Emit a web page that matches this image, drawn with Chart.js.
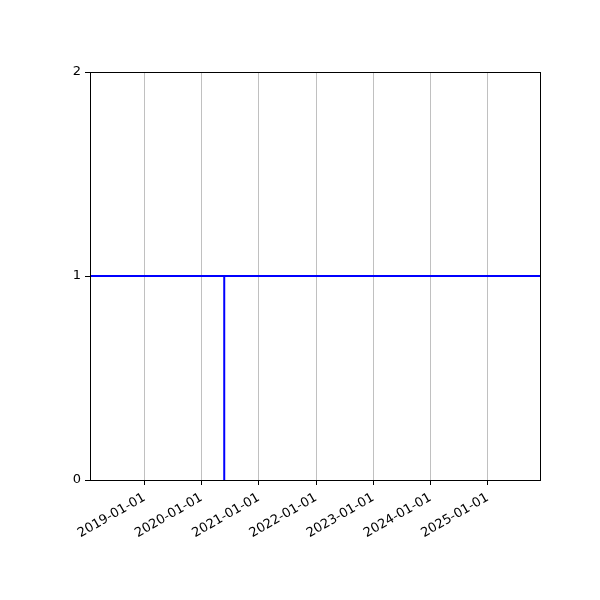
<!DOCTYPE html>
<html>
<head>
<meta charset="utf-8">
<script src="https://cdn.jsdelivr.net/npm/chart.js@4"></script>
<style>
  html, body { margin: 0; padding: 0; background: #fff; }
  #wrap { width: 600px; height: 600px; }
</style>
</head>
<body>
<div id="wrap"><canvas id="chart" width="600" height="600"></canvas></div>
<script>
// Axis range (dates)
const xStart = '2018-01-19';
const xEnd = '2025-12-01';

// Date tick labels
const tickLabels = ['2019-01-01', '2020-01-01', '2021-01-01', '2022-01-01',
                    '2023-01-01', '2024-01-01', '2025-01-01'];
const yTicks = [0, 1, 2];

// Horizontal level line
const levelDates = [xStart, xEnd];
const levelValues = [1, 1];

// Vertical step at the event date
const stepDates = ['2020-05-25', '2020-05-25'];
const stepValues = [0, 1];

const toPoints = (dates, values) => dates.map((d, i) => ({ x: Date.parse(d), y: values[i] }));

// Draw the full box around the plot area
const frame = {
    id: 'frame',
    afterDraw(chart) {
        const { ctx, chartArea: a } = chart;
        ctx.save();
        ctx.strokeStyle = '#000';
        ctx.lineWidth = 1;
        ctx.strokeRect(Math.round(a.left) + 0.5, Math.round(a.top) + 0.5,
                       Math.round(a.right - a.left), Math.round(a.bottom - a.top));
        ctx.restore();
    }
};

const font = { family: 'DejaVu Sans', size: 13 };

new Chart(document.getElementById('chart'), {
    type: 'line',
    data: {
        datasets: [
            {
                data: toPoints(levelDates, levelValues),
                borderColor: '#0000ff',
                borderWidth: 2,
                pointRadius: 0,
                tension: 0
            },
            {
                data: toPoints(stepDates, stepValues),
                borderColor: '#0000ff',
                borderWidth: 2,
                pointRadius: 0,
                tension: 0
            }
        ]
    },
    options: {
        responsive: false,
        animation: false,
        layout: { padding: { top: 72, right: 60, left: 0, bottom: 0 } },
        plugins: { legend: { display: false }, tooltip: { enabled: false } },
        scales: {
            x: {
                type: 'linear',
                min: Date.parse(xStart),
                max: Date.parse(xEnd),
                afterBuildTicks: axis => {
                    axis.ticks = tickLabels.map(s => ({ value: Date.parse(s) }));
                },
                afterFit: axis => { axis.height = 120; },
                ticks: {
                    color: '#000',
                    font: font,
                    minRotation: 30,
                    maxRotation: 30,
                    autoSkip: false,
                    padding: 5,
                    callback: value => new Date(value).toISOString().slice(0, 10)
                },
                grid: {
                    color: '#b0b0b0',
                    lineWidth: 0.8,
                    tickColor: '#000',
                    tickLength: 5,
                    tickWidth: 1
                },
                border: { display: false }
            },
            y: {
                min: 0,
                max: 2,
                afterBuildTicks: axis => {
                    axis.ticks = yTicks.map(v => ({ value: v }));
                },
                afterFit: axis => { axis.width = 90; },
                ticks: { color: '#000', font: font, padding: 4 },
                grid: {
                    drawOnChartArea: false,
                    tickColor: '#000',
                    tickLength: 5,
                    tickWidth: 1
                },
                border: { display: false }
            }
        }
    },
    plugins: [frame]
});
</script>
</body>
</html>
